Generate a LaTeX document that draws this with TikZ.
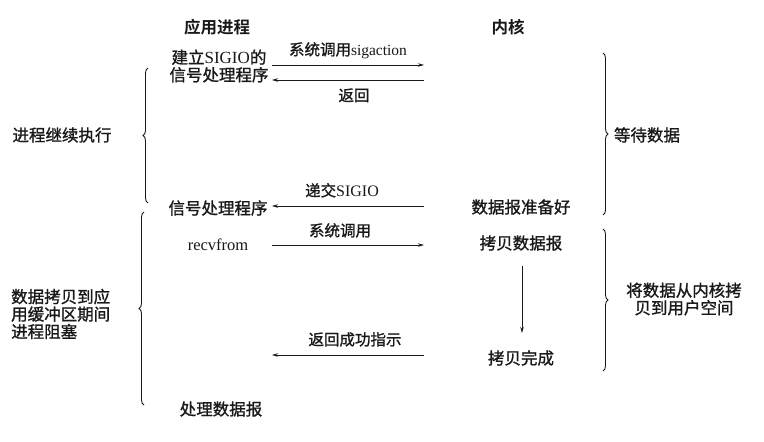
\documentclass[tikz,border=0pt]{standalone}
\usepackage{fontspec}
\setmainfont{Liberation Serif}
\newfontfamily\cjk[FakeBold=1.2]{Noto Sans CJK SC}
\newfontfamily\cjkb{Noto Sans CJK SC Bold}
\usetikzlibrary{arrows.meta,decorations.pathreplacing}
\definecolor{ink}{RGB}{25,25,25}
\begin{document}
\begin{tikzpicture}[x=1pt,y=-1pt,
  txt/.style={inner sep=0pt,text=ink,font=\cjk\fontsize{16.5}{17.5}\selectfont},
  hdr/.style={inner sep=0pt,text=ink,font=\cjkb\fontsize{16.5}{18}\selectfont},
  lbl/.style={inner sep=0pt,text=ink,font=\cjk\fontsize{15.5}{16}\selectfont},
  msg/.style={draw=ink,line width=0.8pt,-{Stealth[length=6pt,width=3.5pt]}},
  brc/.style={draw=ink,line width=0.9pt,decorate,decoration={brace,amplitude=5pt}}]
\useasboundingbox (0,0) rectangle (764,442);
\fill[white] (0,0) rectangle (764,442);
% headers
\node[hdr] (happ) at (217,27) {应用进程};
\node[hdr] (hker) at (508,27) {内核};
% app side texts
\node[txt,align=center] (setup) at (219,66) {建立{\rmfamily\fontsize{17}{17}\selectfont SIGIO}的\\信号处理程序};
\node[txt] (handler) at (218,208) {信号处理程序};
\node[txt] (recv) at (218,245) {\rmfamily\fontsize{16.5}{17}\selectfont recvfrom};
\node[txt] (proc) at (221,409) {处理数据报};
% kernel side texts
\node[txt] (ready) at (521,207) {数据报准备好};
\node[txt] (copy) at (521,243) {拷贝数据报};
\node[txt] (done) at (521,358) {拷贝完成};
% endpoint coordinates
\coordinate (s1) at (272,65); \coordinate (k1) at (424,65);
\coordinate (s2) at (272,80); \coordinate (k2) at (424,80);
\coordinate (s3) at (272,206); \coordinate (k3) at (424,206);
\coordinate (s4) at (272,245); \coordinate (k4) at (424,245);
\coordinate (s5) at (272,355); \coordinate (k5) at (424,355);
\coordinate (c1) at (522,266); \coordinate (c2) at (522,333);
% messages
\draw[msg] (s1) -- node[lbl,above=6pt] (l1) {系统调用{\rmfamily\fontsize{15.5}{15}\selectfont sigaction}} (k1);
\draw[msg] (k2) -- node[lbl,below=8pt,xshift=6pt] (l2) {返回} (s2);
\draw[msg] (k3) -- node[lbl,above=8pt,xshift=-6pt] (l3) {递交{\rmfamily\fontsize{16}{15}\selectfont SIGIO}} (s3);
\draw[msg] (s4) -- node[lbl,above=7pt,xshift=-8pt] (l4) {系统调用} (k4);
\draw[msg] (k5) -- node[lbl,above=8pt,xshift=7pt] (l5) {返回成功指示} (s5);
\draw[msg] (c1) -- (c2);
% braces
\draw[brc] (148,203) -- (148,68) coordinate[midway] (b1);
\draw[brc] (144,405) -- (144,212) coordinate[midway] (b2);
\draw[brc] (603,53) -- (603,215) coordinate[midway] (b3);
\draw[brc] (603,229) -- (603,371) coordinate[midway] (b4);
\node[txt] (cont) at (62,135) {进程继续执行};
\node[txt,align=left,anchor=west] (block) at (11,314) {数据拷贝到应\\用缓冲区期间\\进程阻塞};
\node[txt] (wait) at (647,135) {等待数据};
\node[txt,align=center] (copyk) at (684,299) {将数据从内核拷\\贝到用户空间};
\end{tikzpicture}
\end{document}
